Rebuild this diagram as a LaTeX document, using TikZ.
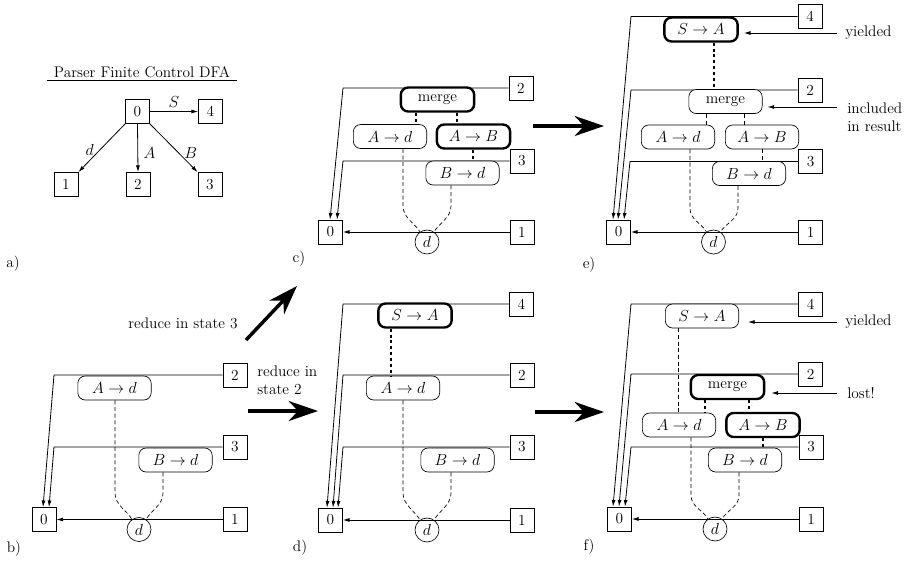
\documentclass[tikz,border=0pt]{standalone}
\usetikzlibrary{arrows.meta,calc}
\begin{document}
\begin{tikzpicture}[x=0.75pt,y=-0.75pt,
  font=\fontsize{11.5}{13.5}\selectfont,
  sbox/.style={draw,line width=0.6pt,minimum width=18pt,minimum height=18pt,inner sep=0pt,fill=white},
  stk/.style={draw,line width=0.5pt,rounded corners=5.5pt,minimum width=55pt,minimum height=18pt,inner sep=0pt,fill=white},
  stkb/.style={stk,line width=1.8pt},
  dnode/.style={draw,circle,line width=0.5pt,minimum size=18pt,inner sep=0pt},
  link/.style={line width=0.6pt,-{Latex[length=5pt,width=3pt]}},
  dsh/.style={line width=0.5pt,dash pattern=on 3pt off 2pt},
  thkdot/.style={line width=2pt,dash pattern=on 2.2pt off 2.2pt},
  big/.style={line width=2.6pt,-{Stealth[length=22pt,width=15pt,inset=7pt]}},
  lbl/.style={inner sep=0pt},
]
\useasboundingbox (0,0) rectangle (907,562);

% ---------------- panel a
\node[lbl,minimum width=142.5pt,inner ysep=1.5pt] (ttl) at (142,72) {Parser Finite Control DFA};
\draw[line width=0.6pt] (ttl.south west) -- (ttl.south east);
\node[sbox] (a0) at (137.5,111.5) {0};
\node[sbox] (a4) at (210.5,111.5) {4};
\node[sbox] (a1) at (66,184.5) {1};
\node[sbox] (a2) at (138,184.5) {2};
\node[sbox] (a3) at (210,184.5) {3};
\draw[link] (a0) -- node[above,lbl,yshift=3pt]{$S$} (a4);
\draw[link] (a0.south west) -- node[pos=0.55,left=4pt,lbl]{$d$} (a1.north east);
\draw[link] (a0.south) -- node[pos=0.6,right=4pt,lbl]{$A$} (a2.north);
\draw[link] (a0.south east) -- node[pos=0.6,right=4pt,lbl]{$B$} (a3.north west);
\node[lbl] (la) at (13,264) {a)};

% ---------------- panel b
\node[sbox] (b2) at (235,375) {2};
\node[sbox] (b3) at (235,447) {3};
\node[sbox] (b0) at (44,519.5) {0};
\node[sbox] (b1) at (235,519.5) {1};
\node[stk] (bAd) at (114.5,388) {$A\rightarrow d$};
\node[stk] (bBd) at (175.5,460) {$B\rightarrow d$};
\node[dnode] (bd) at (139,529.5) {$d$};
\coordinate (bk2) at (54,375);
\coordinate (bk3) at (54,447);
\draw[link] (b2.west) -- (bk2) -- ($(b0.north)+(-1,0)$);
\draw[link] (b3.west) -- (bk3) -- ($(b0.north)+(5,0)$);
\draw[link] (b1.west) -- (b0.east);
\draw[dsh] (bAd.south -| 115,0) -- (115,493) .. controls +(0,12) and +(-5,-9) .. (bd.125);
\draw[dsh] (bBd.south -| 163,0) -- (163,493) .. controls +(0,12) and +(5,-9) .. (bd.55);
\node[lbl] (lb) at (14,549) {b)};

% ---------------- panel c
\node[sbox] (c2) at (521,88) {2};
\node[sbox] (c3) at (522,161) {3};
\node[sbox] (c0) at (330.5,232) {0};
\node[sbox] (c1) at (522,232) {1};
\coordinate (ck2) at (343,88);
\coordinate (ck3) at (343,161);
\draw[link] (c2.west) -- (ck2) -- ($(c0.north)+(-0.5,0)$);
\draw[link] (c3.west) -- (ck3) -- ($(c0.north)+(6.5,0)$);
\node[stkb] (cM) at (437.5,99.5) {merge};
\node[stk] (cAd) at (390,136.5) {$A\rightarrow d$};
\node[stkb] (cAB) at (473.5,136.5) {$A\rightarrow B$};
\node[stk] (cBd) at (462.5,173) {$B\rightarrow d$};
\node[dnode] (cd) at (427,242) {$d$};
\draw[link] (c1.west) -- (c0.east);
\draw[thkdot] (cM.south -| 416,0) -- (cAd.north -| 416,0);
\draw[thkdot] (cM.south -| 457,0) -- (cAB.north -| 457,0);
\draw[thkdot] (cAB.south -| 473,0) -- (cBd.north -| 473,0);
\draw[dsh] (cAd.south -| 403,0) -- (403,206) .. controls +(0,12) and +(-5,-9) .. (cd.125);
\draw[dsh] (cBd.south -| 451,0) -- (451,206) .. controls +(0,12) and +(5,-9) .. (cd.55);
\node[lbl] (lc) at (299,259) {c)};

% ---------------- panel d
\node[sbox] (d4) at (521.5,304) {4};
\node[sbox] (d2) at (522,375) {2};
\node[sbox] (d3) at (522,447) {3};
\node[sbox] (d0) at (330.5,520) {0};
\node[sbox] (d1) at (522,520) {1};
\coordinate (dk4) at (343,304);
\coordinate (dk2) at (343,375);
\coordinate (dk3) at (343,447);
\draw[link] (d4.west) -- (dk4) -- ($(d0.north)+(-3.5,0)$);
\draw[link] (d2.west) -- (dk2) -- ($(d0.north)+(2.5,0)$);
\draw[link] (d3.west) -- (dk3) -- ($(d0.north)+(7.5,0)$);
\node[stkb] (dSA) at (415,315.5) {$S\rightarrow A$};
\node[stk] (dAd) at (403,388) {$A\rightarrow d$};
\node[stk] (dBd) at (457.5,460) {$B\rightarrow d$};
\node[dnode] (dd) at (427,530) {$d$};
\draw[link] (d1.west) -- (d0.east);
\draw[thkdot] (dSA.south -| 391,0) -- (dAd.north -| 391,0);
\draw[dsh] (dAd.south -| 403,0) -- (403,493) .. controls +(0,12) and +(-5,-9) .. (dd.125);
\draw[dsh] (dBd.south -| 451,0) -- (451,493) .. controls +(0,12) and +(5,-9) .. (dd.55);
\node[lbl] (ld) at (300,548) {d)};

% ---------------- panel e
\node[sbox] (e4) at (810,16.5) {4};
\node[sbox] (e2) at (810,90) {2};
\node[sbox] (e3) at (810.5,161.5) {3};
\node[sbox] (e0) at (618.5,232) {0};
\node[sbox] (e1) at (810.5,232) {1};
\coordinate (ek4) at (631,16.5);
\coordinate (ek2) at (631,90);
\coordinate (ek3) at (630,161.5);
\draw[link] (e4.west) -- (ek4) -- ($(e0.north)+(-5.5,0)$);
\draw[link] (e2.west) -- (ek2) -- ($(e0.north)+(-0.5,0)$);
\draw[link] (e3.west) -- (ek3) -- ($(e0.north)+(5.5,0)$);
\node[stkb] (eSA) at (701,29.5) {$S\rightarrow A$};
\node[stk] (eM) at (725.5,101.5) {merge};
\node[stk] (eAd) at (678,137) {$A\rightarrow d$};
\node[stk] (eAB) at (762,137) {$A\rightarrow B$};
\node[stk] (eBd) at (749,173.5) {$B\rightarrow d$};
\node[dnode] (ed) at (713.5,242) {$d$};
\draw[link] (e1.west) -- (e0.east);
\draw[thkdot] (eSA.south -| 714,0) -- (eM.north -| 714,0);
\draw[dsh] (eM.south -| 706,0) -- (eAd.north -| 706,0);
\draw[dsh] (eM.south -| 744,0) -- (eAB.north -| 744,0);
\draw[dsh] (eAB.south -| 762,0) -- (eBd.north -| 762,0);
\draw[dsh] (eAd.south -| 690,0) -- (690,208) .. controls +(0,12) and +(-5,-9) .. (ed.125);
\draw[dsh] (eBd.south -| 738,0) -- (738,208) .. controls +(0,12) and +(5,-9) .. (ed.55);
\node[lbl,anchor=west] (eY) at (845,33) {yielded};
\draw[link] ($(eY.west)+(-8,0)$) -- ($(eSA.east)+(5,3.5)$);
\node[lbl,anchor=north west,align=left] (eI) at (847,102.5) {included\\in result};
\draw[link] ($(eI.north west)+(-10,4.5)$) -- ($(eM.east)+(5,5.5)$);
\node[lbl] (le) at (589,265) {e)};

% ---------------- panel f
\node[sbox] (f4) at (810.5,304) {4};
\node[sbox] (f2) at (810.5,374) {2};
\node[sbox] (f3) at (811,447) {3};
\node[sbox] (f0) at (619.5,519) {0};
\node[sbox] (f1) at (811,519) {1};
\coordinate (fk4) at (631,304);
\coordinate (fk2) at (631,374);
\coordinate (fk3) at (631,447);
\draw[link] (f4.west) -- (fk4) -- ($(f0.north)+(-6.5,0)$);
\draw[link] (f2.west) -- (fk2) -- ($(f0.north)+(-0.5,0)$);
\draw[link] (f3.west) -- (fk3) -- ($(f0.north)+(5.5,0)$);
\node[stk] (fSA) at (702,316) {$S\rightarrow A$};
\node[stkb] (fM) at (727.5,387) {merge};
\node[stk] (fAd) at (679,425) {$A\rightarrow d$};
\node[stkb] (fAB) at (763,425) {$A\rightarrow B$};
\node[stk] (fBd) at (745,460) {$B\rightarrow d$};
\node[dnode] (fd) at (715,529) {$d$};
\draw[link] (f1.west) -- (f0.east);
\draw[dsh] (fSA.south -| 678,0) -- (fAd.north -| 678,0);
\draw[thkdot] (fM.south -| 705,0) -- (fAd.north -| 705,0);
\draw[thkdot] (fM.south -| 749,0) -- (fAB.north -| 749,0);
\draw[thkdot] (fAB.south -| 763,0) -- (fBd.north -| 763,0);
\draw[dsh] (fAd.south -| 691,0) -- (691,495) .. controls +(0,12) and +(-5,-9) .. (fd.125);
\draw[dsh] (fBd.south -| 739,0) -- (739,495) .. controls +(0,12) and +(5,-9) .. (fd.55);
\node[lbl,anchor=west] (fY) at (845,322) {yielded};
\draw[link] ($(fY.west)+(-8,0)$) -- ($(fSA.east)+(9,6)$);
\node[lbl,anchor=west] (fL) at (847,393) {lost!};
\draw[link] ($(fL.west)+(-10,0)$) -- ($(fM.east)+(6,6)$);
\node[lbl] (lf) at (589,547) {f)};

% ---------------- transitions
\node[lbl] (r3) at (183,323) {reduce in state 3};
\node[lbl,align=left,anchor=west] (r2) at (257,380) {reduce in\\state 2};
\coordinate (t1a) at (246,340); \coordinate (t1b) at (297,286);
\coordinate (t2a) at (248,411); \coordinate (t2b) at (318,411);
\coordinate (t3a) at (533,126); \coordinate (t3b) at (604,126);
\coordinate (t4a) at (535,412); \coordinate (t4b) at (604,412);
\draw[big] (t1a) -- (t1b);
\draw[big] (t2a) -- (t2b);
\draw[big] (t3a) -- (t3b);
\draw[big] (t4a) -- (t4b);
\end{tikzpicture}
\end{document}
